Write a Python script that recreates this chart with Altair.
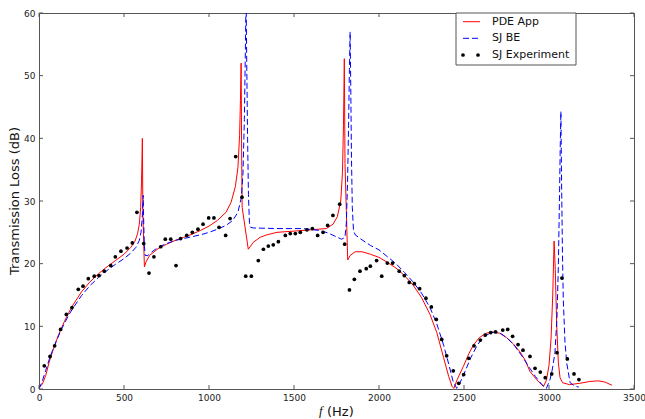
import altair as alt
import pandas as pd

# ---------------- data ----------------
pde_f = [0, 20, 40, 60, 80, 100, 125, 150, 175, 200, 250, 300, 350, 400, 450, 500,
         540, 565, 580, 590, 598, 603, 606, 608, 611, 620, 630, 650, 700, 750, 800,
         850, 900, 950, 1000, 1050, 1100, 1130, 1155, 1170, 1180, 1185, 1189, 1192,
         1195, 1231, 1245, 1260, 1300, 1340, 1400, 1500, 1600, 1690, 1730, 1755,
         1775, 1785, 1791, 1796, 1800, 1816, 1830, 1860, 1900, 1950, 2000, 2050,
         2100, 2150, 2200, 2250, 2300, 2340, 2380, 2410, 2430, 2440, 2460, 2496,
         2530, 2555, 2590, 2630, 2670, 2710, 2750, 2790, 2830, 2860, 2888, 2927,
         2967, 2985, 3000, 3012, 3022, 3030, 3037, 3045, 3055, 3065, 3080, 3120,
         3180, 3240, 3290, 3330, 3370]
pde_tl = [0.2, 0.8, 2.2, 4.3, 6.0, 7.6, 9.3, 10.8, 12.2, 13.4, 15.5, 17.1, 18.4, 19.5, 20.5, 21.5,
          22.6, 23.6, 24.8, 26.3, 29.0, 33.0, 37.0, 40.0, 28.0, 19.5, 20.3, 21.3, 22.4, 23.1, 23.7,
          24.2, 24.7, 25.3, 26.0, 26.9, 28.2, 29.8, 32.3, 35.3, 40.5, 46.0, 52.0, 38.0,
          29.0, 22.3, 22.8, 23.4, 24.2, 24.6, 25.0, 25.2, 25.4, 25.6, 26.3, 27.5,
          30.0, 34.5, 42.0, 52.7, 36.0, 20.6, 21.3, 21.9, 21.9, 21.5, 21.0, 20.2,
          19.3, 18.1, 16.6, 14.6, 11.9, 9.0, 5.0, 2.0, 0.4, 0.1, 1.5, 3.6,
          5.7, 7.0, 8.2, 8.9, 9.1, 8.9, 8.2, 7.2, 5.9, 4.6, 2.8, 1.5,
          0.4, 1.4, 3.8, 8.0, 15.0, 23.6, 19.0, 10.5, 4.2, 1.8, 1.0, 0.7,
          0.9, 1.2, 1.3, 1.1, 0.6]

be_f = [0, 20, 40, 60, 80, 100, 125, 150, 175, 200, 250, 300, 350, 400, 450, 500,
        540, 570, 590, 600, 607, 613, 616, 620, 625, 640, 660, 700, 750, 800, 850,
        900, 950, 1000, 1050, 1100, 1140, 1170, 1190, 1200, 1208, 1214, 1218, 1222,
        1227, 1232, 1238, 1245, 1260, 1400, 1550, 1650, 1700, 1740, 1780, 1800,
        1808, 1815, 1821, 1826, 1830, 1834, 1838, 1843, 1850, 1860, 1900, 1950,
        2000, 2050, 2100, 2150, 2200, 2250, 2300, 2340, 2380, 2410, 2435, 2457,
        2475, 2500, 2540, 2580, 2620, 2660, 2690, 2720, 2760, 2800, 2840, 2880,
        2920, 2955, 2985, 3006, 3020, 3035, 3047, 3055, 3062, 3066, 3070, 3074,
        3079, 3084, 3094, 3104, 3124, 3150, 3175]
be_tl = [0.0, 1.3, 3.0, 4.7, 6.2, 7.5, 9.1, 10.5, 11.8, 12.9, 14.9, 16.5, 17.8, 18.9, 19.9, 20.8,
         21.7, 22.6, 23.7, 25.0, 27.3, 30.9, 26.5, 22.8, 21.3, 21.3, 21.8, 22.6, 23.2, 23.7, 24.0,
         24.3, 24.6, 25.0, 25.5, 26.1, 26.9, 28.2, 30.5, 34.5, 43.0, 54.0, 63.0, 52.0,
         40.0, 31.0, 26.5, 25.8, 25.7, 25.6, 25.6, 25.3, 24.9, 24.4, 23.9, 24.2,
         26.5, 33.0, 42.0, 51.0, 57.0, 48.0, 37.0, 29.0, 25.3, 24.6, 23.8, 22.9,
         22.2, 21.1, 20.0, 18.6, 17.1, 15.3, 13.0, 10.4, 7.0, 4.0, 1.3, 0.1,
         0.9, 2.4, 5.0, 7.1, 8.4, 9.0, 9.1, 8.8, 8.0, 6.8, 5.3, 3.6,
         2.0, 0.8, 0.1, 1.5, 3.2, 5.8, 11.5, 19.6, 31.0, 38.5, 44.3, 33.0,
         22.0, 14.3, 7.5, 4.2, 1.0, 0.5, 0.3]

exp_f = [31, 65, 92, 127, 161, 194, 231, 259, 290, 325, 353, 384, 422, 449, 482, 518,
         549, 576, 616, 647, 676, 716, 743, 775, 806, 833, 869, 902, 935, 965, 998,
         1029, 1059, 1098, 1124, 1157, 1194, 1216, 1249, 1290, 1320, 1349, 1378,
         1408, 1449, 1478, 1508, 1537, 1576, 1608, 1639, 1671, 1698, 1729, 1769,
         1798, 1826, 1855, 1888, 1925, 1949, 1986, 2016, 2049, 2080, 2119, 2149,
         2178, 2208, 2239, 2276, 2308, 2337, 2369, 2398, 2437, 2469, 2498, 2528,
         2559, 2596, 2625, 2657, 2686, 2728, 2757, 2786, 2818, 2847, 2888, 2918,
         2949, 2978, 3016, 3047, 3076, 3108, 3147, 3176]
exp_tl = [3.7, 5.2, 6.9, 9.5, 11.9, 13.0, 15.9, 16.4, 17.6, 18.0, 18.1, 18.8, 19.7, 21.1, 22.0, 22.5,
          23.3, 28.2, 23.2, 18.5, 21.1, 22.7, 23.9, 23.9, 19.7, 24.0, 24.5, 25.0, 25.5, 26.3, 27.3,
          27.3, 25.8, 24.5, 27.2, 37.1, 30.6, 18.0, 18.0, 20.5, 22.3, 22.8, 23.0,
          23.5, 24.5, 24.8, 24.8, 25.0, 25.4, 25.6, 24.5, 25.0, 26.1, 27.7, 29.5,
          23.1, 15.8, 17.5, 18.8, 19.2, 19.6, 20.5, 18.0, 20.1, 20.1, 18.8, 18.1,
          17.0, 16.8, 16.0, 14.5, 13.1, 11.1, 7.9, 5.3, 2.9, 0.9, 2.3, 4.9,
          6.9, 7.8, 8.6, 9.0, 9.1, 9.4, 9.5, 8.4, 7.1, 6.2, 5.2, 3.3,
          2.7, 1.8, 2.4, 5.8, 17.7, 4.8, 2.4, 1.5]

x_ticks = [0, 500, 1000, 1500, 2000, 2500, 3000, 3500]
y_ticks = [0, 10, 20, 30, 40, 50, 60]
legend_labels = ["PDE App", "SJ BE", "SJ Experiment"]
y_title = "Transmission Loss (dB)"
x_title_var = "f"
x_title_unit = "(Hz)"

# ---------------- chart ----------------
W, H = 595, 376
FONT = "DejaVu Sans"
SPINE = "#555555"

xs = alt.Scale(domain=[0, 3500], nice=False)
ys = alt.Scale(domain=[0, 60], nice=False)

x_axis = alt.Axis(values=x_ticks, title=None, labelFlush=False, ticks=False, domain=False,
                  grid=False, labelPadding=4, labelFontSize=9, labelFont=FONT,
                  labelColor="#222222", format="d")
y_axis = alt.Axis(values=y_ticks, title=None, ticks=False, domain=False, grid=False,
                  labelPadding=4, labelFontSize=9, labelFont=FONT, labelColor="#222222",
                  format="d")

X = alt.X("f:Q", scale=xs, axis=x_axis)
Y = alt.Y("tl:Q", scale=ys, axis=y_axis)

pde = pd.DataFrame({"f": pde_f, "tl": pde_tl})
be = pd.DataFrame({"f": be_f, "tl": be_tl})
exp = pd.DataFrame({"f": exp_f, "tl": exp_tl})

red = alt.Chart(pde).mark_line(color="#ff0000", strokeWidth=1, clip=True).encode(x=X, y=Y)
blue = alt.Chart(be).mark_line(color="#0000ff", strokeWidth=1, strokeDash=[6, 3],
                               clip=True).encode(x=X, y=Y)
dots = alt.Chart(exp).mark_circle(color="black", size=14, opacity=1).encode(x=X, y=Y)

# inside ticks (matplotlib classic style)
xt = pd.DataFrame({"f": x_ticks})
yt = pd.DataFrame({"tl": y_ticks})
tick_style = dict(color=SPINE, strokeWidth=1)
t_bottom = alt.Chart(xt).mark_rule(**tick_style).encode(x=X, y=alt.value(H), y2=alt.value(H - 4))
t_top = alt.Chart(xt).mark_rule(**tick_style).encode(x=X, y=alt.value(0), y2=alt.value(4))
t_left = alt.Chart(yt).mark_rule(**tick_style).encode(y=Y, x=alt.value(0), x2=alt.value(4))
t_right = alt.Chart(yt).mark_rule(**tick_style).encode(y=Y, x=alt.value(W), x2=alt.value(W - 4))

one = pd.DataFrame({"k": [0]})

# legend
LX0, LX1, LY1 = 417, 537, 52
rows_y = [8.7, 25.3, 42.0]
leg_box = alt.Chart(one).mark_rect(fill="white", stroke=SPINE, strokeWidth=1).encode(
    x=alt.value(LX0), x2=alt.value(LX1), y=alt.value(0), y2=alt.value(LY1))
leg_red = alt.Chart(one).mark_rule(color="#ff0000", strokeWidth=1).encode(
    x=alt.value(424), x2=alt.value(441), y=alt.value(rows_y[0]))
leg_blue = alt.Chart(one).mark_rule(color="#0000ff", strokeWidth=1, strokeDash=[6, 3]).encode(
    x=alt.value(424), x2=alt.value(441), y=alt.value(rows_y[1]))
leg_dot1 = alt.Chart(one).mark_circle(color="black", size=14, opacity=1).encode(
    x=alt.value(424), y=alt.value(rows_y[2]))
leg_dot2 = alt.Chart(one).mark_circle(color="black", size=14, opacity=1).encode(
    x=alt.value(439), y=alt.value(rows_y[2]))
leg_texts = [
    alt.Chart(pd.DataFrame({"t": [lab]})).mark_text(
        align="left", baseline="middle", font=FONT, fontSize=11, color="#111111"
    ).encode(text="t:N", x=alt.value(453), y=alt.value(yy))
    for lab, yy in zip(legend_labels, rows_y)
]

# axis titles
ytitle = alt.Chart(pd.DataFrame({"t": [y_title]})).mark_text(
    angle=270, align="center", baseline="middle", font=FONT, fontSize=13, color="#111111"
).encode(text="t:N", x=alt.value(-24), y=alt.value(H / 2))
xtitle_f = alt.Chart(pd.DataFrame({"t": [x_title_var]})).mark_text(
    align="left", baseline="middle", font="Liberation Serif", fontStyle="italic",
    fontSize=13, color="#111111"
).encode(text="t:N", x=alt.value(280), y=alt.value(H + 22))
xtitle_u = alt.Chart(pd.DataFrame({"t": [x_title_unit]})).mark_text(
    align="left", baseline="middle", font=FONT, fontSize=13, color="#111111"
).encode(text="t:N", x=alt.value(288), y=alt.value(H + 22.5))

chart = alt.layer(
    red, blue, dots, t_bottom, t_top, t_left, t_right,
    leg_box, leg_red, leg_blue, leg_dot1, leg_dot2, *leg_texts,
    ytitle, xtitle_f, xtitle_u
).properties(
    width=W, height=H,
    autosize=alt.AutoSizeParams(type="none"),
    padding={"left": 39, "top": 13, "right": 11, "bottom": 30},
).configure_view(
    stroke=SPINE, strokeWidth=1
)

chart.save("out.html", embed_options={"renderer": "svg", "actions": False})
